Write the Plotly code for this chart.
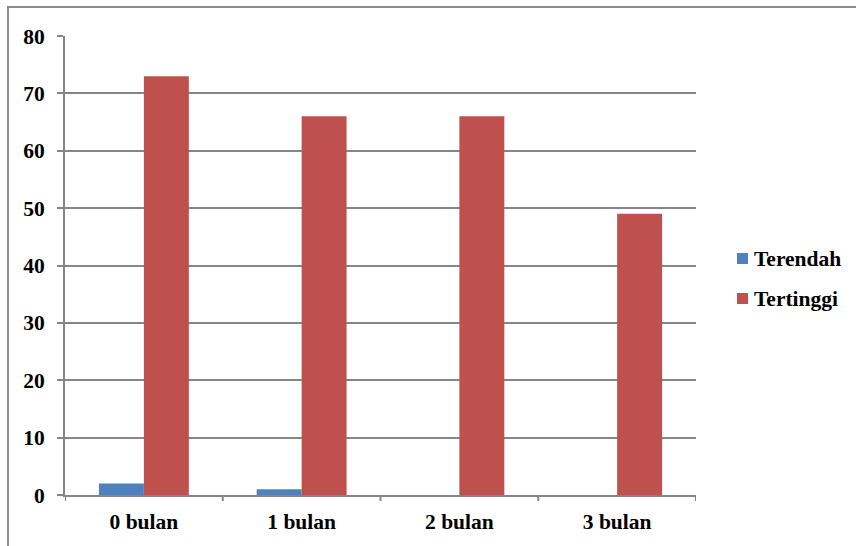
import plotly.graph_objects as go

categories = ["0 bulan", "1 bulan", "2 bulan", "3 bulan"]
terendah = [2, 1, 0, 0]
tertinggi = [73, 66, 66, 49]
series_names = ["Terendah", "Tertinggi"]
series_colors = ["#4F81BD", "#C0504D"]
y_ticks = [0, 10, 20, 30, 40, 50, 60, 70, 80]

W, H = 856, 546
L, R, T, B = 65, 160, 36, 51
pw, ph = W - L - R, H - T - B

FAMILY = "Liberation Serif"
FSIZE = 21.5
FONT = dict(family=FAMILY, size=FSIZE, color="#000000", weight="bold")
GRID = "#868686"


def px_x(x):
    return (x - L) / pw


def px_y(y):
    return (H - B - y) / ph


fig = go.Figure()
for name, vals, col in zip(series_names, [terendah, tertinggi], series_colors):
    fig.add_trace(go.Bar(name=name, x=categories, y=vals, showlegend=False,
                         marker=dict(color=col, line=dict(width=0))))

# outer chart frame (runs off the right and bottom edge)
fig.add_shape(type="rect", xref="paper", yref="paper",
              x0=px_x(8), x1=px_x(W + 20), y0=px_y(H + 20), y1=px_y(7),
              line=dict(color="#8C8C8C", width=2), layer="below")

# category boundary tick marks on the x axis
for i in range(len(categories) + 1):
    fig.add_shape(type="line", xref="x", yref="paper",
                  x0=i - 0.5, x1=i - 0.5, y0=0, y1=-6 / ph,
                  line=dict(color=GRID, width=2))

# legend: small colour squares with bold labels
for k, (name, col) in enumerate(zip(series_names, series_colors)):
    cy = 258.5 + 40 * k
    fig.add_shape(type="rect", xref="paper", yref="paper",
                  x0=px_x(737), x1=px_x(748), y0=px_y(cy + 5.5), y1=px_y(cy - 5.5),
                  fillcolor=col, line=dict(width=0))
    fig.add_annotation(xref="paper", yref="paper", x=px_x(752), y=px_y(cy),
                       xanchor="left", yanchor="middle", text=name,
                       showarrow=False, font=FONT)

fig.update_layout(
    width=W, height=H,
    margin=dict(l=L, r=R, t=T, b=B),
    paper_bgcolor="white", plot_bgcolor="white",
    barmode="group", bargap=0.43, bargroupgap=0,
    font=FONT,
    showlegend=False,
    xaxis=dict(range=[-0.5, 3.5], showgrid=False, showline=True,
               linecolor=GRID, linewidth=2, ticks="", tickfont=FONT,
               ticklabelstandoff=6, fixedrange=True),
    yaxis=dict(range=[0, 80], tickvals=y_ticks, showgrid=True, gridcolor=GRID,
               gridwidth=1.5, showline=True, linecolor=GRID, linewidth=2,
               ticks="outside", ticklen=6, tickcolor=GRID, tickwidth=2,
               tickfont=FONT, ticklabelstandoff=8, zeroline=False,
               fixedrange=True),
)

fig.write_html("out.html")
